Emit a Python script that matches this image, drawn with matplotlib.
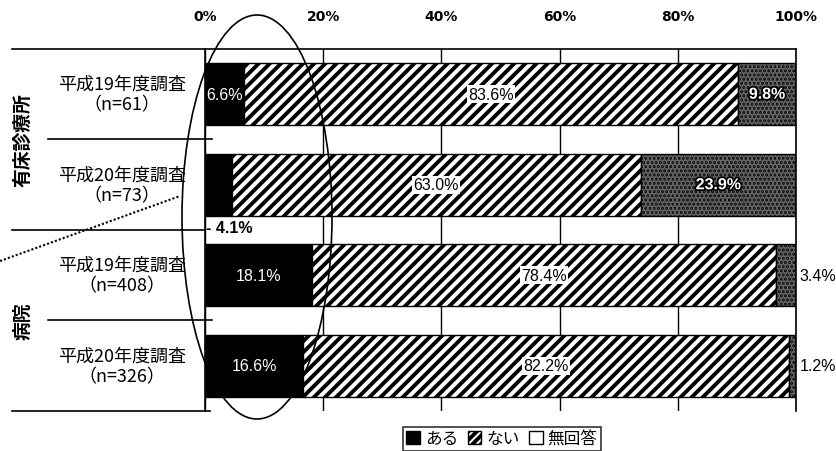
import numpy as np
import matplotlib
matplotlib.use("Agg")
import matplotlib.pyplot as plt
import matplotlib.patches as mpatches
import matplotlib.patheffects as pe
from matplotlib.lines import Line2D
from matplotlib.transforms import blended_transform_factory

plt.rcParams['font.family'] = ['Noto Sans CJK JP', 'DejaVu Sans']
plt.rcParams['hatch.linewidth'] = 2.8

# data
categories = ['平成19年度調査\n（n=61）', '平成20年度調査\n（n=73）',
              '平成19年度調査\n（n=408）', '平成20年度調査\n（n=326）']
groups = ['有床診療所', '病院']
series = ['ある', 'ない', '無回答']
aru = [6.6, 4.1, 18.1, 16.6]
nai = [83.6, 63.0, 78.4, 82.2]
mukaito = [9.8, 23.9, 3.4, 1.2]
xticks = [0, 20, 40, 60, 80, 100]

W, H = 837, 452
fig = plt.figure(figsize=(W / 100, H / 100), dpi=100)
ax = fig.add_axes([205 / W, 1 - 412 / H, 591 / W, 362 / H])

vals = np.array([aru, nai, mukaito], dtype=float)
shares = vals / vals.sum(axis=0) * 100  # 100% stacked, as in the original
s_aru, s_nai, s_muk = shares
y = np.arange(len(categories))
bh = 0.69

ax.barh(y, s_aru, height=bh, color='black', edgecolor='black', lw=1, zorder=2)
ax.barh(y, s_nai, left=s_aru, height=bh, color='white', edgecolor='black',
        hatch='///', lw=1, zorder=2)
left2 = s_aru + s_nai
ax.barh(y, s_muk, left=left2, height=bh, color='#0c0c0c', edgecolor='#6a6a6a',
        hatch='....', lw=0, zorder=2)
ax.barh(y, s_muk, left=left2, height=bh, fill=False, edgecolor='black', lw=1, zorder=3)

ax.set_xlim(0, 100)
ax.set_ylim(len(categories) - 0.5, -0.5)
ax.xaxis.tick_top()
ax.set_xticks(xticks)
ax.set_xticklabels([f'{t}%' for t in xticks], fontweight='bold', fontsize=10,
                   family='DejaVu Sans')
ax.tick_params(axis='x', length=0, pad=19)
ax.set_yticks([])
ax.set_axisbelow(True)
ax.xaxis.grid(True, color='black', lw=1)
for s in ['top', 'left', 'right']:
    ax.spines[s].set_linewidth(1.2)
ax.spines['bottom'].set_visible(False)

num_font = dict(family='Liberation Sans', fontsize=11.5)
for i in range(len(categories)):
    a, n, m = s_aru[i], s_nai[i], s_muk[i]
    if a >= 10:
        ax.text(a / 2, i, f'{aru[i]:.1f}%', color='white', ha='center', va='center',
                zorder=5, **num_font)
    elif a >= 5:
        ax.text(0.2, i, f'{aru[i]:.1f}%', color='white', ha='left', va='center',
                zorder=5, **num_font)
    else:
        ax.text(0.2, i + 0.47, f'- {aru[i]:.1f}%', color='black', ha='left', va='center',
                zorder=5, fontweight='bold', **num_font)
    ax.text(a + n / 2, i, f'{nai[i]:.1f}%', color='black', ha='center', va='center',
            zorder=5, bbox=dict(facecolor='white', edgecolor='none', pad=1), **num_font)
    if m >= 5:
        ax.text(a + n + m / 2, i, f'{mukaito[i]:.1f}%', color='white', ha='center',
                va='center', fontweight='bold', zorder=5,
                path_effects=[pe.withStroke(linewidth=2.5, foreground='black')], **num_font)
    else:
        ax.text(100.6, i, f'{mukaito[i]:.1f}%', color='black', ha='left', va='center',
                zorder=5, clip_on=False, **num_font)

trans = blended_transform_factory(fig.transFigure, ax.transData)
for i, lab in enumerate(categories):
    ax.text(122 / W, i, lab, transform=trans, ha='center', va='center',
            fontsize=13, linespacing=1.2, clip_on=False)
for g, lab in enumerate(groups):
    ax.text(23 / W, g * 2 + 0.5, lab, transform=trans, ha='center', va='center',
            rotation=90, fontsize=13.5, fontweight='bold', clip_on=False)

# table separator lines on the left
for x0, x1, yy in [(12, 205, 50), (48, 212, 140), (12, 205, 231),
                   (48, 212, 321), (12, 210, 412)]:
    fig.add_artist(Line2D([x0 / W, x1 / W], [1 - yy / H] * 2, color='black', lw=1.2))

# ellipse and dotted pointer
fig.add_artist(mpatches.Ellipse((257 / W, 1 - 218 / H), 150 / W, 404 / H,
                                transform=fig.transFigure, fill=False,
                                edgecolor='black', lw=1.2, zorder=10))
fig.add_artist(Line2D([0, 180 / W], [1 - 262 / H, 1 - 197 / H], color='black',
                      lw=1.5, linestyle=(0, (1, 1)), zorder=10))

handles = [mpatches.Patch(facecolor='black', edgecolor='black'),
           mpatches.Patch(facecolor='white', edgecolor='black', hatch='////'),
           mpatches.Patch(facecolor='white', edgecolor='black')]
leg = fig.legend(handles, series, loc='upper center', bbox_to_anchor=(502 / W, 1 - 428 / H),
                 ncol=3, frameon=True, fancybox=False, edgecolor='black',
                 handlelength=0.8, handleheight=0.8, handletextpad=0.3,
                 columnspacing=0.6, fontsize=12, borderpad=0.2, borderaxespad=0)
leg.get_frame().set_linewidth(1.2)

fig.savefig('out.png', dpi=100)
